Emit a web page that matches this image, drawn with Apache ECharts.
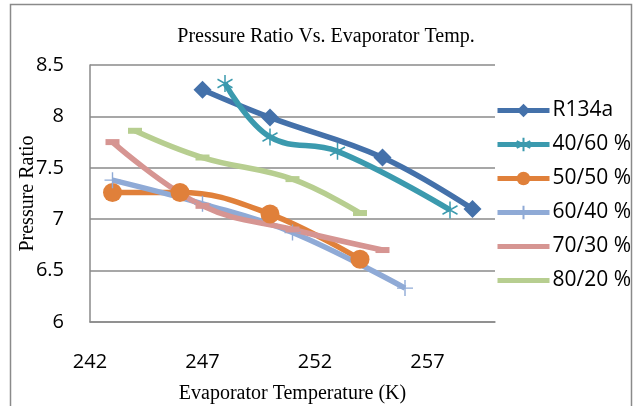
<!DOCTYPE html>
<html>
<head>
<meta charset="utf-8">
<script src="https://cdn.jsdelivr.net/npm/echarts@6/dist/echarts.min.js"></script>
<style>
  html, body { margin: 0; padding: 0; background: #ffffff; }
  #chart { width: 642px; height: 406px; }
</style>
</head>
<body>
<div id="chart"></div>
<script>
// Pressure ratio of refrigerant blends against evaporator temperature
const seriesNames = ['R134a', '40/60 %', '50/50 %', '60/40 %', '70/30 %', '80/20 %'];

const tempR134a = [247, 250, 255, 259];
const ratioR134a = [8.26, 7.99, 7.60, 7.10];

const temp4060 = [248, 250, 253, 258];
const ratio4060 = [8.32, 7.80, 7.66, 7.09];

const temp5050 = [243, 246, 250, 254];
const ratio5050 = [7.26, 7.26, 7.05, 6.61];

const temp6040 = [243, 247, 251, 256];
const ratio6040 = [7.38, 7.15, 6.87, 6.33];

const temp7030 = [243, 247, 251, 255];
const ratio7030 = [7.75, 7.13, 6.90, 6.70];

const temp8020 = [244, 247, 251, 254];
const ratio8020 = [7.86, 7.60, 7.39, 7.06];

const xTickLabels = [242, 247, 252, 257];
const yTickLabels = [6, 6.5, 7, 7.5, 8, 8.5];

const temps = [tempR134a, temp4060, temp5050, temp6040, temp7030, temp8020];
const ratios = [ratioR134a, ratio4060, ratio5050, ratio6040, ratio7030, ratio8020];

const colors = ['#4471AA', '#3B9AAE', '#E0803A', '#8FAAD6', '#D69592', '#B7CE90'];

const asteriskPath = 'path://M8,0L8,16M1,4L15,12M1,12L15,4';
const plusPath = 'path://M8,0L8,16M0,8L16,8';

const markerStyles = [
  { symbol: 'diamond', symbolSize: 18, stroke: 0, legendMarker: true },
  { symbol: asteriskPath, symbolSize: [15, 17], stroke: 1.6, legendMarker: true },
  { symbol: 'circle', symbolSize: 19, stroke: 0, legendMarker: true },
  { symbol: plusPath, symbolSize: [16, 16], stroke: 1.4, legendMarker: true },
  { symbol: 'rect', symbolSize: [14, 6], stroke: 0, legendMarker: false },
  { symbol: 'rect', symbolSize: [14, 6], stroke: 0, legendMarker: false }
];

const serifFont = '"Liberation Serif", "Times New Roman", serif';
const sansFont = '"Open Sans", "Noto Sans", sans-serif';

const series = seriesNames.map((name, i) => ({
  name: name,
  type: 'line',
  smooth: 0.4,
  data: temps[i].map((t, k) => [t, ratios[i][k]]),
  symbol: markerStyles[i].symbol,
  symbolSize: markerStyles[i].symbolSize,
  showAllSymbol: true,
  lineStyle: { color: colors[i], width: 5.5 },
  itemStyle: {
    color: colors[i],
    borderColor: colors[i],
    borderWidth: markerStyles[i].stroke
  },
  emphasis: { disabled: true },
  animation: false
}));

// Dash markers blend into the line in the legend, so those keys show only the line
const legendData = seriesNames.map((name, i) =>
  markerStyles[i].legendMarker ? { name: name } : { name: name, itemStyle: { opacity: 0 } }
);

const chart = echarts.init(document.getElementById('chart'), null, { renderer: 'canvas' });

chart.setOption({
  animation: false,
  backgroundColor: '#ffffff',
  color: colors,
  title: {
    text: 'Pressure Ratio Vs. Evaporator Temp.',
    left: 321,
    textAlign: 'center',
    top: 22,
    textStyle: { fontFamily: serifFont, fontSize: 20, fontWeight: 'normal', color: '#000000' }
  },
  graphic: [
    {
      type: 'rect',
      shape: { x: 10.5, y: 4.5, width: 621, height: 410 },
      style: { fill: 'none', stroke: '#8a8a8a', lineWidth: 1.5 },
      silent: true,
      z: -1
    }
  ],
  legend: {
    orient: 'vertical',
    left: 490,
    top: 95,
    itemWidth: 52,
    itemHeight: 17,
    itemGap: 13,
    data: legendData,
    lineStyle: { width: 5 },
    textStyle: { fontFamily: sansFont, fontSize: 21, color: '#000000', padding: [0, 0, 0, -2] }
  },
  grid: { left: 90, right: 147, top: 65, bottom: 84, outerBoundsMode: 'none' },
  xAxis: {
    type: 'value',
    min: 242,
    max: 260,
    interval: 5,
    name: 'Evaporator Temperature (K)',
    nameLocation: 'middle',
    nameGap: 62,
    nameMoveOverlap: false,
    nameTextStyle: { fontFamily: serifFont, fontSize: 20, color: '#000000' },
    axisLine: { show: true, onZero: false, lineStyle: { color: '#8a8a8a', width: 1.5 } },
    axisTick: { show: false },
    axisLabel: {
      margin: 30,
      fontFamily: sansFont,
      fontSize: 20,
      color: '#000000',
      showMaxLabel: false,
      formatter: v => (xTickLabels.indexOf(v) >= 0 ? String(v) : '')
    },
    splitLine: { show: false }
  },
  yAxis: {
    type: 'value',
    min: 6,
    max: 8.5,
    interval: 0.5,
    name: 'Pressure Ratio',
    nameLocation: 'middle',
    nameGap: 52,
    nameMoveOverlap: false,
    nameTextStyle: { fontFamily: serifFont, fontSize: 20, color: '#000000' },
    axisLine: { show: true, lineStyle: { color: '#8a8a8a', width: 1.5 } },
    axisTick: { show: false },
    axisLabel: {
      margin: 26,
      fontFamily: sansFont,
      fontSize: 20,
      color: '#000000',
      formatter: v => (yTickLabels.indexOf(v) >= 0 ? String(v) : '')
    },
    splitLine: { show: true, lineStyle: { color: '#8a8a8a', width: 1.5 } }
  },
  series: series
});
</script>
</body>
</html>
